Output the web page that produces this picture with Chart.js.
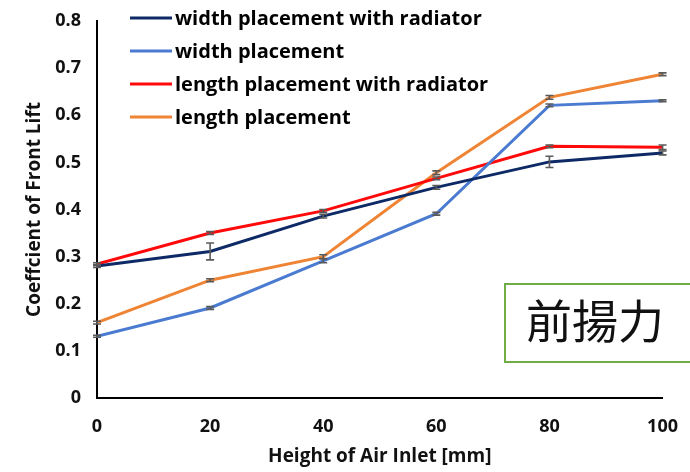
<!DOCTYPE html>
<html>
<head>
<meta charset="utf-8">
<script src="https://cdn.jsdelivr.net/npm/chart.js@4.4.1/dist/chart.umd.min.js"></script>
<style>
  html, body { margin: 0; padding: 0; background: #ffffff; }
  #wrap { position: relative; width: 690px; height: 472px; }
  canvas { display: block; }
</style>
</head>
<body>
<div id="wrap"><canvas id="c" width="690" height="472"></canvas></div>
<script>
// Air inlet heights [mm]
const heights = [0, 20, 40, 60, 80, 100];

// Front lift coefficient for each placement
const widthRadiator  = [0.280, 0.311, 0.386, 0.447, 0.501, 0.520];
const widthPlain     = [0.131, 0.191, 0.291, 0.391, 0.621, 0.631];
const lengthRadiator = [0.284, 0.350, 0.397, 0.466, 0.534, 0.532];
const lengthPlain    = [0.160, 0.250, 0.300, 0.478, 0.638, 0.687];

// Standard deviation (error bar half-length)
const widthRadiatorErr  = [0.003, 0.018, 0.004, 0.004, 0.012, 0.004];
const widthPlainErr     = [0.002, 0.003, 0.004, 0.003, 0.003, 0.002];
const lengthRadiatorErr = [0.003, 0.003, 0.003, 0.003, 0.003, 0.005];
const lengthPlainErr    = [0.003, 0.003, 0.004, 0.004, 0.004, 0.003];

const seriesLabels = [
  'width placement with radiator',
  'width placement',
  'length placement with radiator',
  'length placement'
];

const yTicks = [0, 0.1, 0.2, 0.3, 0.4, 0.5, 0.6, 0.7, 0.8];
const xTicks = heights;

const boxText = '前揚力';

function pts(ys) { return heights.map((h, i) => ({ x: h, y: ys[i] })); }

const series = [
  { label: seriesLabels[0], data: widthRadiator,  err: widthRadiatorErr,  color: '#0E2A66' },
  { label: seriesLabels[1], data: widthPlain,     err: widthPlainErr,     color: '#4A7BD0' },
  { label: seriesLabels[2], data: lengthRadiator, err: lengthRadiatorErr, color: '#FF0A0A' },
  { label: seriesLabels[3], data: lengthPlain,    err: lengthPlainErr,    color: '#EE8434' }
];

const BOLD = '"Open Sans", "Noto Sans", sans-serif';

// Draws error bars for every point, from the dataset's err array
const errorBars = {
  id: 'errorBars',
  afterDatasetsDraw(chart) {
    const { ctx, scales: { x, y } } = chart;
    ctx.save();
    ctx.strokeStyle = '#5a5a5a';
    ctx.lineWidth = 1.6;
    chart.data.datasets.forEach(ds => {
      ds.data.forEach((p, i) => {
        const e = ds.err[i];
        const px = x.getPixelForValue(p.x);
        const top = y.getPixelForValue(p.y + e);
        const bot = y.getPixelForValue(p.y - e);
        ctx.beginPath();
        ctx.moveTo(px, top); ctx.lineTo(px, bot);
        ctx.moveTo(px - 4, top); ctx.lineTo(px + 4, top);
        ctx.moveTo(px - 4, bot); ctx.lineTo(px + 4, bot);
        ctx.stroke();
      });
    });
    ctx.restore();
  }
};

// Legend stacked vertically at the top of the plot
const stackedLegend = {
  id: 'stackedLegend',
  afterDraw(chart) {
    const { ctx } = chart;
    ctx.save();
    ctx.font = 'bold 20px ' + BOLD;
    ctx.textBaseline = 'middle';
    chart.data.datasets.forEach((ds, i) => {
      const cy = 18 + i * 33;
      ctx.strokeStyle = ds.borderColor;
      ctx.lineWidth = 3;
      ctx.beginPath();
      ctx.moveTo(130, cy); ctx.lineTo(172, cy);
      ctx.stroke();
      ctx.fillStyle = '#000000';
      ctx.fillText(ds.label, 175, cy + 1);
    });
    ctx.restore();
  }
};

// Boxed caption in the lower right
const captionBox = {
  id: 'captionBox',
  afterDraw(chart) {
    const { ctx } = chart;
    ctx.save();
    ctx.strokeStyle = '#70AD47';
    ctx.lineWidth = 2;
    ctx.strokeRect(505, 284, 195, 78);
    ctx.fillStyle = '#111111';
    ctx.font = '46px "Noto Sans CJK TC", sans-serif';
    ctx.textBaseline = 'middle';
    ctx.fillText(boxText, 526, 321);
    ctx.restore();
  }
};

new Chart(document.getElementById('c'), {
  type: 'line',
  data: {
    datasets: series.map(s => ({
      label: s.label,
      data: pts(s.data),
      err: s.err,
      borderColor: s.color,
      backgroundColor: s.color,
      borderWidth: 3,
      pointRadius: 0,
      tension: 0,
      fill: false
    }))
  },
  options: {
    responsive: false,
    animation: false,
    layout: { padding: { top: 21, right: 17, left: 0, bottom: 0 } },
    plugins: { legend: { display: false }, tooltip: { enabled: false } },
    scales: {
      x: {
        type: 'linear',
        min: 0, max: 100,
        afterBuildTicks(scale) { scale.ticks = xTicks.map(v => ({ value: v })); },
        afterFit(scale) { scale.height = 74; },
        grid: { display: false, drawTicks: true, tickLength: 6, tickColor: '#000', drawOnChartArea: false },
        border: { display: true, color: '#000', width: 2 },
        ticks: { color: '#111', font: { family: BOLD, size: 18, weight: 'bold' }, padding: 12, maxRotation: 0 },
        title: { display: true, text: 'Height of Air Inlet [mm]', color: '#111',
                 font: { family: BOLD, size: 19, weight: 'bold' }, padding: { top: 0, bottom: 4 } }
      },
      y: {
        min: 0, max: 0.8,
        afterBuildTicks(scale) { scale.ticks = yTicks.map(v => ({ value: v })); },
        afterFit(scale) { scale.width = 97; },
        grid: { display: false, drawTicks: true, tickLength: 6, tickColor: '#000', drawOnChartArea: false },
        border: { display: true, color: '#000', width: 2 },
        ticks: { color: '#111', font: { family: BOLD, size: 18, weight: 'bold' }, padding: 10,
                 callback: v => (v === 0 ? '0' : v.toFixed(1)) },
        title: { display: true, text: 'Coeffcient of Front Lift', color: '#111',
                 font: { family: BOLD, size: 19, weight: 'bold' }, padding: { top: 23, bottom: 0 } }
      }
    }
  },
  plugins: [errorBars, stackedLegend, captionBox]
});
</script>
</body>
</html>
